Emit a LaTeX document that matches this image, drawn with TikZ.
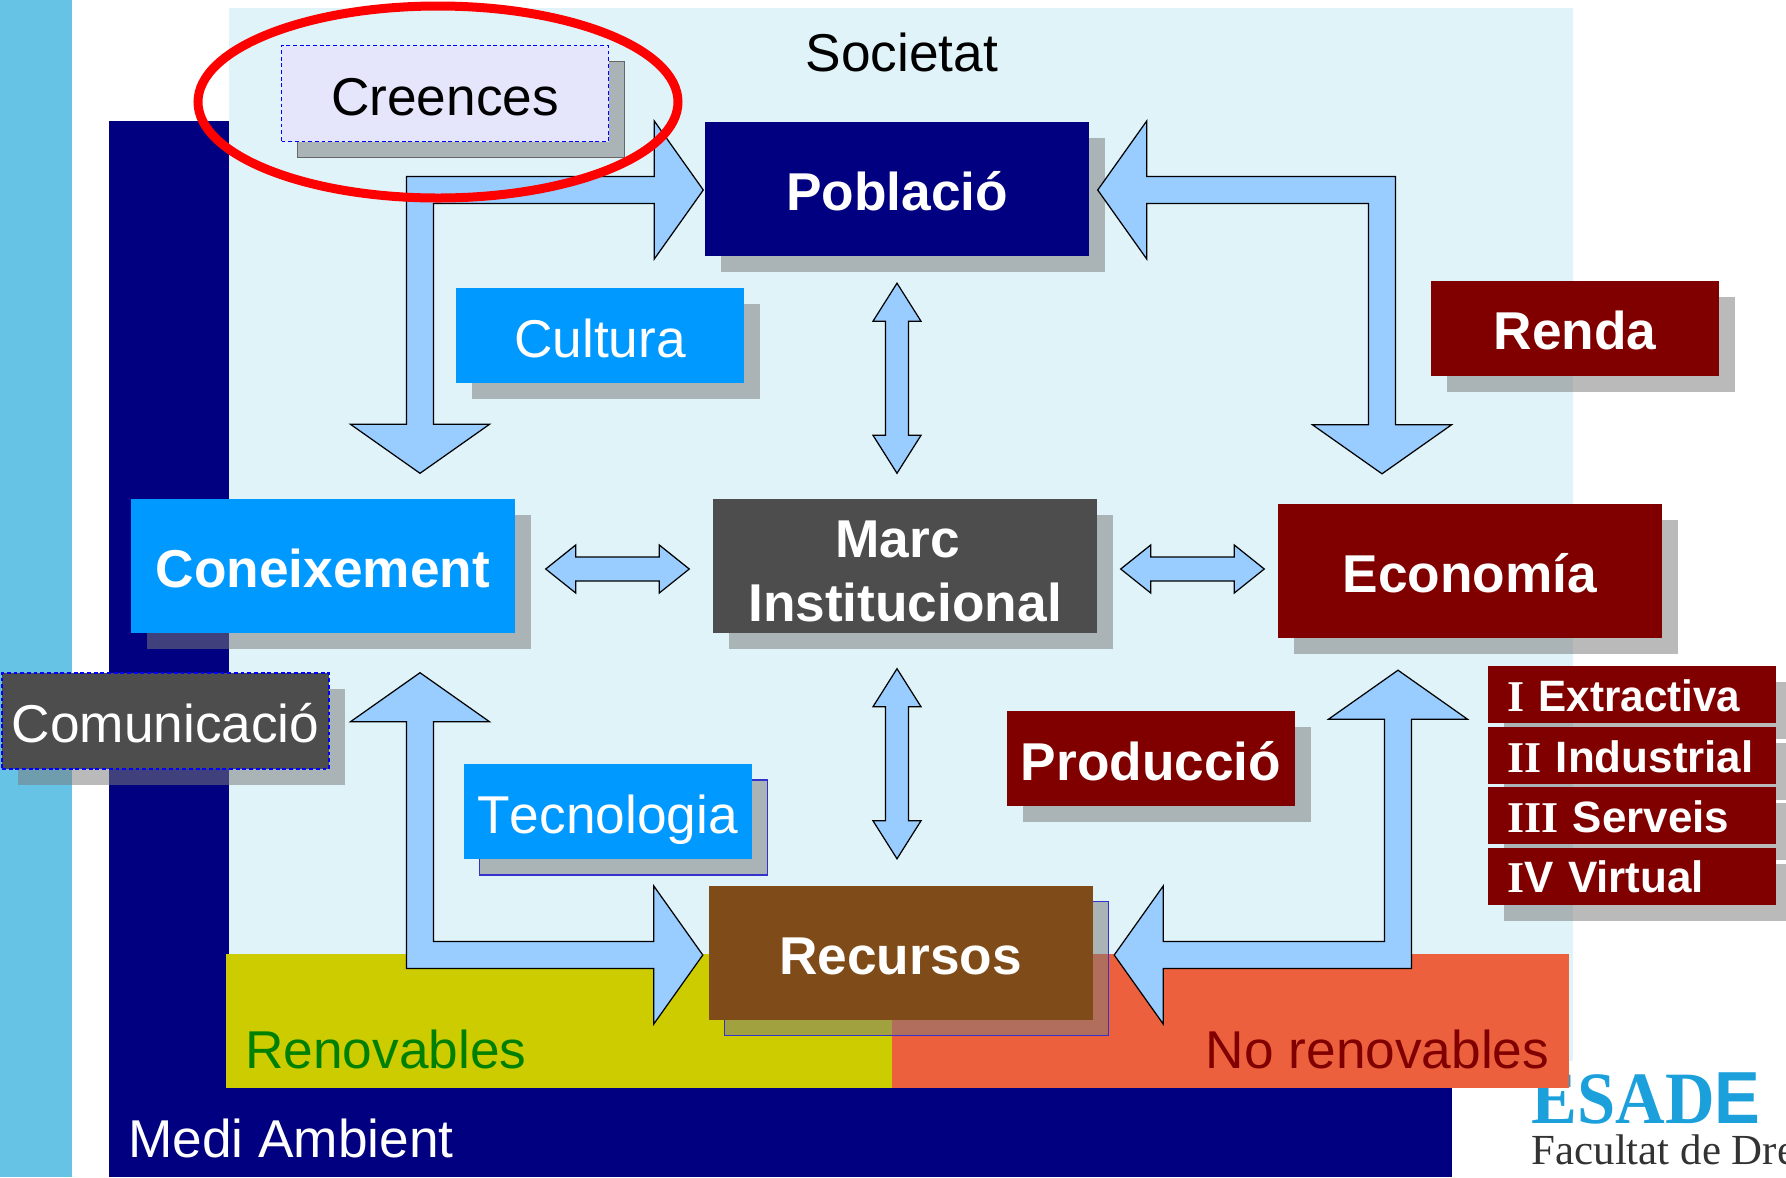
\documentclass[tikz,border=0pt]{standalone}
\usepackage{fontspec}
\setmainfont{Liberation Sans}
\newfontfamily\logofont{Liberation Serif}
\usetikzlibrary{calc,shadows,shapes.geometric}

\definecolor{barblue}{HTML}{66C3E6}
\definecolor{navyblue}{HTML}{000080}
\definecolor{paleblue}{HTML}{DFF3F9}
\definecolor{brightblue}{HTML}{0099FF}
\definecolor{arrowblue}{HTML}{99CCFF}
\definecolor{darkred}{HTML}{800000}
\definecolor{darkgrey}{HTML}{4D4D4D}
\definecolor{brownbox}{HTML}{7F4C19}
\definecolor{renewyellow}{HTML}{CCCC00}
\definecolor{nonreneworange}{HTML}{EC603E}
\definecolor{palelilac}{HTML}{E5E5FC}
\definecolor{shadowgrey}{HTML}{7B7B7B}
\definecolor{logoblue}{HTML}{1BA0DC}
\definecolor{logodark}{HTML}{333333}
\definecolor{linkblue}{HTML}{3333CC}

\newcommand{\mainsize}{\fontsize{15.15}{18}\selectfont}
\newcommand{\sectorsize}{\fontsize{12.5}{15}\selectfont}

\tikzset{
    boxshadow/.style={general shadow={shadow xshift=.16cm, shadow yshift=-.16cm, fill=shadowgrey, fill opacity=.52, #1}},
    bigbox/.style={inner sep=0pt, minimum width=3.84cm, minimum height=1.34cm, align=center, text height=.43cm, text depth=0pt, font=\mainsize\bfseries, text=white, boxshadow={#1}},
    bigbox/.default={},
    midbox/.style={inner sep=0pt, minimum width=2.88cm, minimum height=.95cm, align=center, text height=.43cm, text depth=0pt, font=\mainsize, text=white, boxshadow={#1}},
    midbox/.default={},
    dashbox/.style={midbox={#1}, minimum width=3.27cm, minimum height=.96cm, draw=blue, line width=.3pt, dash pattern=on 1.1pt off .8pt},
    dashbox/.default={},
    sectorbox/.style={inner xsep=.19cm, inner ysep=0pt, text width=2.5cm, minimum height=.57cm, align=left, text height=.33cm, text depth=0pt, font=\sectorsize\bfseries, text=white, fill=darkred, boxshadow={}},
    shadowline/.style={draw=#1, line width=.5pt, solid},
    blockarrow/.style={draw=black, fill=arrowblue, line width=.35pt, line join=miter},
    label/.style={inner sep=0pt, font=\mainsize}
}

% start, end (tips of the arrow, on a vertical or a horizontal line)
\newcommand{\biarrowv}[2]{
    \draw[blockarrow] (#1) -- ++(.24,-.38) -- ++(-.125,0) -- ($(#2)+(.115,.38)$) -- ++(.125,0) -- (#2)
        -- ++(-.24,.38) -- ++(.125,0) -- ($(#1)+(-.115,-.38)$) -- ++(-.125,0) -- cycle;
}
\newcommand{\biarrowh}[2]{
    \draw[blockarrow] (#1) -- ++(.30,.24) -- ++(0,-.12) -- ($(#2)+(-.30,.12)$) -- ++(0,.12) -- (#2)
        -- ++(-.30,-.24) -- ++(0,.12) -- ($(#1)+(.30,-.12)$) -- ++(0,-.12) -- cycle;
}
% tip on the side, tip on top or bottom, direction in x, direction in y
\newcommand{\bentarrow}[4]{
    \coordinate (tipa) at (#1);
    \coordinate (tipb) at (#2);
    \coordinate (a1) at ($(tipa)+(#3*.49,#4*-.69)$);
    \coordinate (a2) at ($(tipa)+(#3*.49,#4*-.135)$);
    \coordinate (a3) at ($(tipa)+(#3*.49,#4*.135)$);
    \coordinate (a4) at ($(tipa)+(#3*.49,#4*.69)$);
    \coordinate (b1) at ($(tipb)+(#3*.135,#4*-.49)$);
    \coordinate (b2) at ($(tipb)+(#3*.695,#4*-.49)$);
    \coordinate (b3) at ($(tipb)+(#3*-.695,#4*-.49)$);
    \coordinate (b4) at ($(tipb)+(#3*-.135,#4*-.49)$);
    \draw[blockarrow] (tipa) -- (a1) -- (a2) -- (b1 |- a2) -- (b1) -- (b2) -- (tipb) -- (b3) -- (b4)
        -- (b4 |- a3) -- (a3) -- (a4) -- cycle;
}

\begin{document}
\begin{tikzpicture}
    \clip[use as bounding box] (0,0) rectangle (17.86,-11.77);
    \fill[barblue] (0,0) rectangle (.72,-11.77);
    \fill[navyblue] (1.085,-1.21) rectangle (14.52,-11.77);
    \fill[paleblue] (2.29,-.08) rectangle (15.73,-10.61);

    \node[anchor=base west, inner sep=0pt, font=\logofont\fontsize{21}{24}\selectfont\bfseries, text=logoblue] (Esade) at (15.31,-11.23) {\scalebox{.93}[1]{ESAD}\scalebox{.93}[1]{\rmfamily E}};
    \node[anchor=base west, inner sep=0pt, font=\logofont\fontsize{12.2}{15}\selectfont, text=logodark] (Facultat) at (15.31,-11.64) {Facultat de Dret};

    \fill[renewyellow] (2.26,-9.54) rectangle (8.92,-10.88);
    \fill[nonreneworange] (8.92,-9.54) rectangle (15.69,-10.88);

    \node[label, text=white, anchor=base west] (MediAmbient) at (1.275,-11.57) {Medi Ambient};
    \node[label, text=black] (Societat) at (9.02,-.52) {Societat};
    \node[label, text=green!50!black, anchor=base west] (Renovables) at (2.445,-10.68) {Renovables};
    \node[label, text=darkred, anchor=base east] (NoRenovables) at (15.50,-10.68) {No renovables};

    \node[bigbox, fill=navyblue] (Poblacio) at (8.97,-1.885) {Població};
    \node[bigbox, fill=brightblue] (Coneixement) at (3.23,-5.66) {Coneixement};
    \node[bigbox, fill=darkgrey, text height=1.10cm] (Marc) at (9.05,-5.66) {Marc~\mbox{}\\Institucional};
    \node[bigbox, fill=darkred] (Economia) at (14.70,-5.705) {Economía};
    \node[bigbox={shadowline=linkblue}, fill=brownbox] (Recursos) at (9.005,-9.525) {Recursos};

    \node[midbox, fill=brightblue] (Cultura) at (6.00,-3.355) {Cultura};
    \node[midbox={shadowline=linkblue}, fill=brightblue] (Tecnologia) at (6.075,-8.115) {T\kern0pt ecnologia};
    \node[midbox, fill=darkred, font=\mainsize\bfseries] (Renda) at (15.75,-3.28) {Renda};
    \node[midbox, fill=darkred, font=\mainsize\bfseries] (Produccio) at (11.51,-7.585) {Producció};
    \node[dashbox={solid, draw=none}, fill=darkgrey] (Comunicacio) at (1.655,-7.21) {Comunicació};
    \node[dashbox={shadowline=black!60}, fill=palelilac, text=black] (Creences) at (4.45,-.935) {Creences};

    \node[sectorbox] (Extractiva) at (16.32,-6.945) {{\logofont I} \scalebox{.96}[1]{Extractiva}};
    \node[sectorbox] (Industrial) at (16.32,-7.555) {{\logofont II} Industrial};
    \node[sectorbox] (Serveis) at (16.32,-8.155) {{\logofont III} Serveis};
    \node[sectorbox] (Virtual) at (16.32,-8.76) {{\logofont I}V Virtual};

    \bentarrow{$(Poblacio.west)+(-.01,-.015)$}{$(Coneixement.north)+(.97,.25)$}{-1}{-1}
    \bentarrow{$(Poblacio.east)+(.08,-.015)$}{$(Economia.north)+(-.88,.29)$}{1}{-1}
    \bentarrow{$(Recursos.west)+(-.05,-.025)$}{$(Coneixement.south)+(.97,-.39)$}{-1}{1}
    \bentarrow{$(Recursos.east)+(.21,-.025)$}{$(Economia.south)+(-.72,-.32)$}{1}{1}

    \biarrowv{$(Poblacio.south)+(0,-.27)$}{$(Marc.north)+(-.08,.25)$}
    \biarrowv{$(Marc.south)+(-.08,-.35)$}{$(Recursos.north)+(-.035,.26)$}
    \biarrowh{$(Coneixement.east)+(.30,-.03)$}{$(Marc.west)+(-.23,-.03)$}
    \biarrowh{$(Marc.east)+(.23,-.03)$}{$(Economia.west)+(-.13,.015)$}

    \node[ellipse, draw=red, line width=.09cm, inner sep=0pt, minimum width=4.80cm, minimum height=1.92cm] (Destacat) at (4.38,-1.02) {};
\end{tikzpicture}
\end{document}
